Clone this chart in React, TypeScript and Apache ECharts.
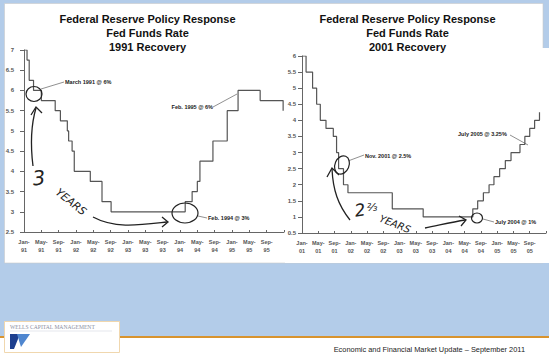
import React, { useEffect, useRef } from "react";
import * as echarts from "echarts";

// ---- data ----
const leftTickLabels = ["Jan-91", "May-91", "Sep-91", "Jan-92", "May-92", "Sep-92", "Jan-93", "May-93", "Sep-93", "Jan-94", "May-94", "Sep-94", "Jan-95", "May-95", "Sep-95"];
const rightTickLabels = ["Jan-01", "May-01", "Sep-01", "Jan-02", "May-02", "Sep-02", "Jan-03", "May-03", "Sep-03", "Jan-04", "May-04", "Sep-04", "Jan-05", "May-05", "Sep-05"];

// months since Jan of first year at which the target rate changed, and the new rate
const leftChangeMonths = [0, 0.7, 1.2, 2.2, 4.0, 7.2, 8.4, 10.0, 10.3, 11.1, 11.6, 15.3, 18.0, 20.1, 37.2, 38.8, 40.0, 40.6, 43.6, 46.9, 49.4, 54.5, 59.8];
const leftRates = [7.0, 6.75, 6.25, 6.0, 5.75, 5.5, 5.25, 5.0, 4.75, 4.5, 4.0, 3.75, 3.25, 3.0, 3.25, 3.5, 3.75, 4.25, 4.75, 5.5, 6.0, 5.75, 5.5];

const rightChangeMonths = [0, 1.0, 2.6, 3.6, 4.5, 5.9, 7.7, 8.5, 9.0, 10.2, 11.3, 22.2, 29.8, 42.0, 43.2, 44.6, 46.0, 47.2, 48.6, 50.0, 51.4, 53.6, 54.8, 56.0, 57.2, 58.4];
const rightRates = [6.0, 5.5, 5.0, 4.5, 4.0, 3.75, 3.5, 3.0, 2.5, 2.0, 1.75, 1.25, 1.0, 1.25, 1.5, 1.75, 2.0, 2.25, 2.5, 2.75, 3.0, 3.25, 3.5, 3.75, 4.0, 4.25];

const leftTitle = ["Federal Reserve Policy Response", "Fed Funds Rate", "1991 Recovery"];
const rightTitle = ["Federal Reserve Policy Response", "Fed Funds Rate", "2001 Recovery"];
const footerText = "Economic and Financial Market Update \u2013 September 2011";
const logoText = "WELLS CAPITAL MANAGEMENT";

const INK = "#222";
const LABEL = "#555";

function xLabel(labels: string[]) {
  return {
    fontSize: 5.5,
    color: LABEL,
    fontWeight: "bold" as const,
    fontFamily: "Liberation Sans, Arial",
    lineHeight: 8,
    margin: 6,
    formatter: (v: number) => {
      const i = Math.round(v / 4);
      if (Math.abs(v - i * 4) > 1e-6 || !labels[i]) return "";
      return labels[i].replace("-", "-\n");
    },
  };
}

function yLabel(margin: number) {
  return {
    fontSize: 6,
    color: LABEL,
    fontWeight: "bold" as const,
    fontFamily: "Liberation Sans, Arial",
    margin,
    formatter: (v: number) => String(v),
  };
}

const axisLineStyle = { color: "#666", width: 1 };

function text(x: number, y: number, t: string, extra: any = {}) {
  return {
    type: "text",
    x,
    y,
    style: {
      text: t,
      fill: INK,
      fontSize: 5.5,
      fontWeight: "bold",
      fontFamily: "Liberation Sans, Arial",
      textVerticalAlign: "middle",
      ...extra,
    },
    z: 10,
  };
}
function ln(x1: number, y1: number, x2: number, y2: number, w = 0.6, c = "#444") {
  return { type: "line", shape: { x1, y1, x2, y2 }, style: { stroke: c, lineWidth: w }, z: 10 };
}
function ell(cx: number, cy: number, rx: number, ry: number, rot = 0) {
  return {
    type: "ellipse",
    x: cx,
    y: cy,
    rotation: rot,
    shape: { cx: 0, cy: 0, rx, ry },
    style: { fill: "none", stroke: INK, lineWidth: 1.2 },
    z: 10,
  };
}
function curve(x1: number, y1: number, cpx1: number, cpy1: number, cpx2: number, cpy2: number, x2: number, y2: number) {
  return {
    type: "bezierCurve",
    shape: { x1, y1, cpx1, cpy1, cpx2, cpy2, x2, y2 },
    style: { stroke: INK, lineWidth: 1.3, fill: "none" },
    z: 10,
  };
}
function head(tx: number, ty: number, ax: number, ay: number, bx: number, by: number) {
  return {
    type: "polyline",
    shape: { points: [[ax, ay], [tx, ty], [bx, by]] },
    style: { stroke: INK, lineWidth: 1.3, fill: "none" },
    z: 10,
  };
}
function hand(x: number, y: number, t: string, size: number, rot = 0) {
  return {
    type: "text",
    x,
    y,
    rotation: rot,
    style: {
      text: t,
      fill: INK,
      fontSize: size,
      fontFamily: "DejaVu Sans",
      fontStyle: "italic",
      textAlign: "center",
      textVerticalAlign: "middle",
    },
    z: 10,
  };
}

export default function App() {
  const ref = useRef<HTMLDivElement>(null);

  useEffect(() => {
    if (!ref.current) return;
    const chart = echarts.init(ref.current, undefined, { renderer: "svg", width: 549, height: 354 });

    const leftData = leftChangeMonths.map((m, i) => [m, leftRates[i]]);
    const rightData = rightChangeMonths.map((m, i) => [m, rightRates[i]]);

    const titleText = (cx: number, lines: string[]) =>
      lines.map((t, i) => ({
        type: "text",
        x: cx,
        y: 19 + i * 14,
        style: {
          text: t,
          fill: "#111",
          fontSize: 11,
          fontWeight: "bold",
          fontFamily: "Liberation Sans, Arial",
          textAlign: "center",
          textVerticalAlign: "middle",
        },
        z: 10,
      }));

    const graphic: any[] = [
      // page background panels
      { type: "rect", shape: { x: 4.5, y: 3.5, width: 538.5, height: 259.5 }, style: { fill: "#fff", stroke: "#c9c9c9", lineWidth: 0.6 }, z: -10 },
      { type: "rect", shape: { x: 285, y: 48, width: 264, height: 215 }, style: { fill: "#fff" }, z: -9 },
      { type: "rect", shape: { x: 0, y: 336, width: 549, height: 2 }, style: { fill: "#d8932f" }, z: -8 },
      { type: "rect", shape: { x: 0, y: 338, width: 549, height: 16 }, style: { fill: "#fff" }, z: -8 },
      { type: "rect", shape: { x: 4.5, y: 321.5, width: 115, height: 31 }, style: { fill: "#fff", stroke: "#f0d7ae", lineWidth: 1 }, z: -7 },
      {
        type: "text",
        x: 10,
        y: 327,
        style: { text: logoText, fill: "#8b8fa3", fontSize: 5.6, fontFamily: "Liberation Serif, serif", textVerticalAlign: "middle" },
        z: 10,
      },
      { type: "line", shape: { x1: 10, y1: 331, x2: 112, y2: 331 }, style: { stroke: "#c9ccd8", lineWidth: 0.5 }, z: 10 },
      { type: "polygon", shape: { points: [[10, 334], [20, 334], [14, 349], [10, 349]] }, style: { fill: "#1d3f8f" }, z: 10 },
      { type: "polygon", shape: { points: [[17, 334], [30, 334], [21, 347]] }, style: { fill: "#4f86cf" }, z: 10 },
      {
        type: "text",
        x: 525,
        y: 349,
        style: { text: footerText, fill: "#222", fontSize: 7.4, fontFamily: "Liberation Sans, Arial", textAlign: "right", textVerticalAlign: "middle" },
        z: 10,
      },
      ...titleText(147.5, leftTitle),
      ...titleText(407.5, rightTitle),

      // ---- left annotations ----
      ell(34, 94, 8, 7.5),
      ln(41, 89, 64, 82),
      text(65, 82, "March 1991 @ 6%"),
      curve(33, 166, 30, 142, 31, 125, 36, 108),
      head(36, 107, 31, 115, 42, 113),
      hand(39, 178, "3", 20, 0.1),
      hand(71, 202, "YEARS", 11, -0.68),
      curve(93, 217, 115, 229, 140, 225, 167, 222),
      head(168, 222, 162, 217, 162, 227),
      ell(185, 213, 13, 10),
      ln(198, 216, 207, 218),
      text(208, 218, "Feb. 1994 @ 3%"),
      text(213, 107, "Feb. 1995 @ 6%", { textAlign: "right" }),
      ln(213, 107, 237, 94),

      // ---- right annotations ----
      ell(342, 165, 7, 9.5, -0.4),
      ln(348, 161, 364, 155),
      text(365, 156, "Nov. 2001 @ 2.5%"),
      curve(350, 220, 338, 205, 333, 190, 332, 169),
      head(332, 168, 327, 177, 339, 175),
      hand(360, 210, "2", 17, 0.15),
      hand(372, 207, "\u2154", 11, 0),
      hand(395, 224, "YEARS", 10, -0.38),
      curve(425, 228, 440, 225, 452, 222, 465, 220),
      head(466, 220, 459, 216, 461, 226),
      ell(477, 218, 5.5, 5),
      ln(483, 219, 494, 222),
      text(495, 222, "July 2004 @ 1%"),
      text(458, 134, "July 2005 @ 3.25%"),
      ln(510, 135, 528, 145),
    ];

    chart.setOption({
      animation: false,
      backgroundColor: "#b3cce9",
      grid: [
        { left: 24, top: 50, width: 260, height: 182 },
        { left: 302, top: 56, width: 251, height: 177 },
      ],
      xAxis: [
        {
          gridIndex: 0,
          type: "value",
          min: 0,
          max: 60,
          interval: 4,
          axisLine: { show: true, lineStyle: axisLineStyle },
          axisTick: { show: true, inside: true, length: 2, lineStyle: axisLineStyle },
          splitLine: { show: false },
          axisLabel: xLabel(leftTickLabels),
        },
        {
          gridIndex: 1,
          type: "value",
          min: 0,
          max: 60,
          interval: 4,
          axisLine: { show: true, lineStyle: axisLineStyle },
          axisTick: { show: true, inside: true, length: 2, lineStyle: axisLineStyle },
          splitLine: { show: false },
          axisLabel: xLabel(rightTickLabels),
        },
      ],
      yAxis: [
        {
          gridIndex: 0,
          type: "value",
          min: 2.5,
          max: 7,
          interval: 0.5,
          axisLine: { show: true, lineStyle: axisLineStyle },
          axisTick: { show: true, length: 4, lineStyle: axisLineStyle },
          splitLine: { show: false },
          axisLabel: yLabel(10),
        },
        {
          gridIndex: 1,
          type: "value",
          min: 0.5,
          max: 6,
          interval: 0.5,
          axisLine: { show: true, lineStyle: axisLineStyle },
          axisTick: { show: true, length: 4, lineStyle: axisLineStyle },
          splitLine: { show: false },
          axisLabel: yLabel(6),
        },
      ],
      series: [
        {
          type: "line",
          name: "Fed Funds Rate 1991",
          xAxisIndex: 0,
          yAxisIndex: 0,
          step: "end",
          data: leftData,
          showSymbol: false,
          lineStyle: { color: "#555", width: 1.2 },
        },
        {
          type: "line",
          name: "Fed Funds Rate 2001",
          xAxisIndex: 1,
          yAxisIndex: 1,
          step: "end",
          data: rightData,
          showSymbol: false,
          lineStyle: { color: "#555", width: 1.2 },
        },
      ],
      graphic,
    });

    return () => chart.dispose();
  }, []);

  return <div ref={ref} style={{ position: "absolute", left: 0, top: 0, width: 549, height: 354 }} />;
}
